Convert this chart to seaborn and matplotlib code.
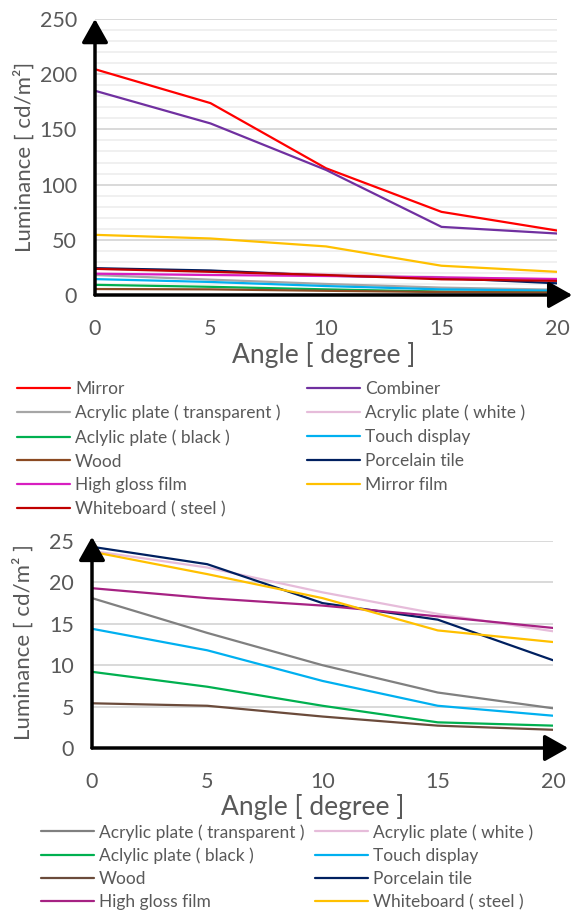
import pandas as pd
import matplotlib
matplotlib.use('Agg')
import matplotlib.pyplot as plt
import seaborn as sns

# angle of observation [degree]
angles = [0, 5, 10, 15, 20]

# luminance [cd/m2]
mirror = [204.5, 173.8, 114.8, 75.3, 58.4]
combiner = [185.0, 155.4, 113.3, 61.7, 55.7]
acrylic_transparent = [18.1, 13.9, 10.0, 6.7, 4.8]
acrylic_white = [23.8, 21.8, 18.8, 16.2, 14.1]
acrylic_black = [9.2, 7.4, 5.1, 3.1, 2.7]
touch_display = [14.4, 11.8, 8.1, 5.1, 3.9]
wood = [5.4, 5.1, 3.8, 2.7, 2.2]
porcelain_tile = [24.3, 22.2, 17.5, 15.5, 10.6]
high_gloss_film = [19.3, 18.1, 17.2, 15.9, 14.5]
mirror_film = [54.5, 51.2, 44.0, 26.5, 21.0]
whiteboard_steel = [23.7, 21.0, 18.1, 14.2, 12.8]

names_all = ['Mirror', 'Combiner', 'Acrylic plate ( transparent )', 'Acrylic plate ( white )',
             'Aclylic plate ( black )', 'Touch display', 'Wood', 'Porcelain tile',
             'High gloss film', 'Mirror film', 'Whiteboard ( steel )']
values_all = [mirror, combiner, acrylic_transparent, acrylic_white, acrylic_black, touch_display,
              wood, porcelain_tile, high_gloss_film, mirror_film, whiteboard_steel]
colors_top = ['#FF0000', '#7030A0', '#A6A6A6', '#E6BCDA', '#00B050', '#00B0F0',
              '#8B4A22', '#002060', '#D81EC0', '#FFC000', '#C00000']

# the zoomed chart leaves out the three brightest materials
names_low = ['Acrylic plate ( transparent )', 'Acrylic plate ( white )', 'Aclylic plate ( black )',
             'Touch display', 'Wood', 'Porcelain tile', 'High gloss film', 'Whiteboard ( steel )']
colors_low = ['#808080', '#E6BCDA', '#00B050', '#00B0F0', '#6B4B3B', '#002060', '#A62283', '#FFC000']

sns.set_theme(style='white')
plt.rcParams['font.family'] = ['Lato', 'DejaVu Sans']
txt = '#595959'

df = pd.DataFrame([(n, a, v) for n, vals in zip(names_all, values_all) for a, v in zip(angles, vals)],
                  columns=['material', 'angle', 'luminance'])
df_low = df[df['material'].isin(names_low)]

fig = plt.figure(figsize=(5.73, 9.11), dpi=100)
ax1 = fig.add_axes([95/573, 1 - 295/911, 462/573, 276/911])
ax2 = fig.add_axes([92/573, 1 - 748/911, 461/573, 207/911])


def style_axis(ax, ymax, major, minor, ylabel):
    ax.set_xlim(0, 20)
    ax.set_ylim(0, ymax)
    ax.set_xticks(angles)
    ax.set_yticks(range(0, ymax + 1, major))
    if minor:
        for y in range(0, ymax + 1, minor):
            if y % major:
                ax.axhline(y, color='#F0F0F0', lw=1.4, zorder=0)
    for y in range(major, ymax + 1, major):
        ax.axhline(y, color='#D9D9D9', lw=1.4, zorder=0)
    for s in ax.spines.values():
        s.set_visible(False)
    ax.tick_params(length=0, labelsize=15.5, labelcolor=txt)
    ax.tick_params(axis='y', pad=13)
    ax.tick_params(axis='x', pad=17)
    ax.set_xlabel('Angle [ degree ]', fontsize=19, color=txt, va='center')
    ax.set_ylabel(ylabel, fontsize=16, color=txt, va='center')
    arrow = dict(arrowstyle='-|>,head_length=0.8,head_width=0.45', color='black', lw=2.5,
                 mutation_scale=18, shrinkA=0, shrinkB=0)
    ax.annotate('', xy=(1.033, 0), xytext=(0, 0), xycoords='axes fraction', arrowprops=arrow,
                annotation_clip=False)
    ax.annotate('', xy=(0, 1.0 if ymax > 100 else 1.02), xytext=(0, 0), xycoords='axes fraction',
                arrowprops=arrow, annotation_clip=False)


sns.lineplot(data=df, x='angle', y='luminance', hue='material', hue_order=names_all,
             palette=dict(zip(names_all, colors_top)), lw=1.6, ax=ax1)
sns.lineplot(data=df_low, x='angle', y='luminance', hue='material', hue_order=names_low,
             palette=dict(zip(names_low, colors_low)), lw=1.6, ax=ax2)

style_axis(ax1, 250, 50, 10, 'Luminance [ cd/m²]')
ax1.xaxis.set_label_coords(0.495, -0.217)
ax1.yaxis.set_label_coords(-0.154, 0.5)
style_axis(ax2, 25, 5, None, 'Luminance [ cd/m² ]')
ax2.xaxis.set_label_coords(0.478, -0.285)
ax2.yaxis.set_label_coords(-0.15, 0.51)


def two_col_legend(ax, x1, x2, ytop, spacing):
    handles, labels = ax.get_legend_handles_labels()
    ax.get_legend().remove()
    for i, x in enumerate([x1, x2]):
        fig.legend(handles[i::2], labels[i::2], loc='upper left',
                   bbox_to_anchor=(x/573, 1 - ytop/911), frameon=False,
                   borderpad=0, borderaxespad=0, handlelength=3.05, handletextpad=0.3,
                   labelspacing=spacing, fontsize=12.5, labelcolor=txt)


two_col_legend(ax1, 17, 307, 381, 0.45)
two_col_legend(ax2, 41, 315, 824, 0.41)

fig.savefig('out.png', dpi=100)
